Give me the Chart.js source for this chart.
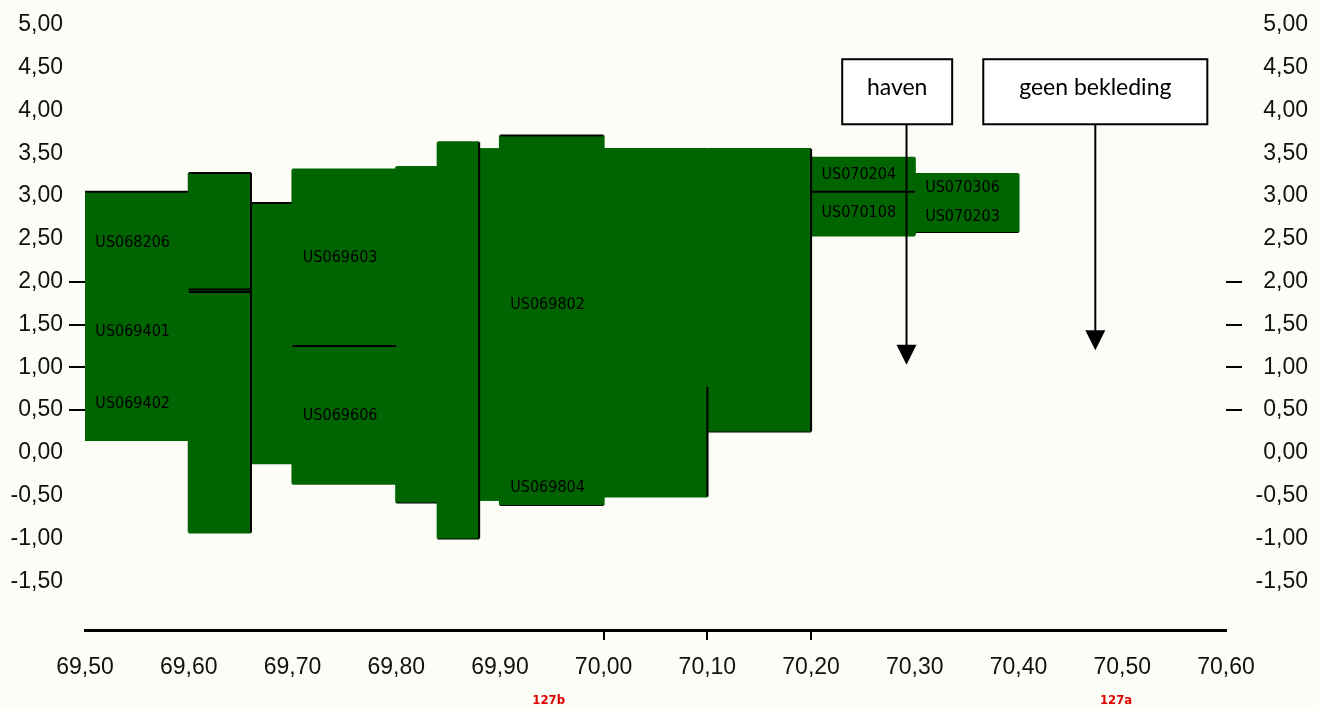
<!DOCTYPE html>
<html>
<head>
<meta charset="utf-8">
<script src="https://cdn.jsdelivr.net/npm/chart.js@4.4.0/dist/chart.umd.min.js"></script>
<style>
  html, body { margin: 0; padding: 0; background: #fdfdf7; }
</style>
</head>
<body>
<canvas id="profiel" width="1319" height="710"></canvas>
<script>
/* Blocks of the profile: chainage from / to and level bottom / top */
var blockFrom   = [69.50, 69.60, 69.66, 69.70, 69.80, 69.84, 69.88, 69.90, 70.00, 70.10, 70.20, 70.30];
var blockTo     = [69.60, 69.66, 69.70, 69.80, 69.84, 69.88, 69.90, 70.00, 70.10, 70.20, 70.30, 70.40];
var blockBottom = [0.15, -0.93, -0.12, -0.36, -0.58, -1.00, -0.55, -0.61, -0.51, 0.25, 2.54, 2.58];
var blockTop    = [3.05, 3.27, 2.92, 3.31, 3.34, 3.63, 3.55, 3.71, 3.55, 3.55, 3.45, 3.26];

/* Seams drawn inside the blocks */
var seamFromX = [69.60, 69.60, 69.70, 70.20, 70.10];
var seamToX   = [69.66, 69.66, 69.80, 70.30, 70.10];
var seamFromY = [1.91, 1.88, 1.25, 3.05, 0.77];
var seamToY   = [1.91, 1.88, 1.25, 3.05, -0.51];

/* Section codes written in the blocks */
var labelText = ['US068206', 'US069401', 'US069402', 'US069603', 'US069606', 'US069802',
                 'US069804', 'US070204', 'US070108', 'US070306', 'US070203'];
var labelX = [69.51, 69.51, 69.51, 69.71, 69.71, 69.91, 69.91, 70.21, 70.21, 70.31, 70.31];
var labelY = [2.45, 1.41, 0.57, 2.28, 0.43, 1.73, -0.41, 3.25, 2.80, 3.10, 2.76];

/* Remarks with arrows */
var noteText   = ['haven', 'geen bekleding'];
var noteLeft   = [70.230, 70.366];
var noteRight  = [70.336, 70.582];
var noteTop    = [4.60, 4.60];
var noteBottom = [3.84, 3.84];
var noteArrowX = [70.292, 70.474];
var noteArrowY = [1.03, 1.20];

/* Dike section numbers under the axis */
var sectionText = ['127b', '127a'];
var sectionX = [69.947, 70.494];

/* Tick labels */
var xTickValues = [69.5, 69.6, 69.7, 69.8, 69.9, 70.0, 70.1, 70.2, 70.3, 70.4, 70.5, 70.6];
var xMarkedTicks = [70.0, 70.1, 70.2];
var yTickValues = [-1.5, -1.0, -0.5, 0, 0.5, 1.0, 1.5, 2.0, 2.5, 3.0, 3.5, 4.0, 4.5, 5.0];
var yMarkedTicks = [0.5, 1.0, 1.5, 2.0];

/* Which edges of a block get a black line (T, R, B) */
var blackEdges = ['T', 'TR', 'T', '', 'B', 'BR', '', 'TB', '', 'BR', '', 'B'];

var GREEN = '#006400';
var TICK_FONT = { family: 'Liberation Sans, Arial, sans-serif', size: 23 };

function formatNL(v) {
  return v.toFixed(2).replace('.', ',');
}

function isMarked(list, v) {
  return list.some(function (m) { return Math.abs(m - v) < 1e-6; });
}

function lineSet(points, color, order) {
  return {
    data: points,
    showLine: true,
    fill: false,
    borderColor: color,
    borderWidth: 2,
    pointRadius: 0,
    order: order
  };
}

/* Each block is a top line filled down to its bottom line */
function buildBlockDatasets() {
  var sets = [];
  blockFrom.forEach(function (x0, i) {
    var x1 = blockTo[i], edges = blackEdges[i];
    var top = lineSet([{x: x0, y: blockTop[i]}, {x: x1, y: blockTop[i]}],
                      edges.indexOf('T') >= 0 ? '#000' : GREEN, 3);
    top.fill = '+1';
    top.backgroundColor = GREEN;
    var bottom = lineSet([{x: x0, y: blockBottom[i]}, {x: x1, y: blockBottom[i]}],
                         edges.indexOf('B') >= 0 ? '#000' : GREEN, 3);
    sets.push(top, bottom);
  });
  return sets;
}

/* Side edges: green ones close the gaps between blocks, black ones on top */
function buildEdgeDatasets() {
  var sets = [];
  blockFrom.forEach(function (x0, i) {
    var x1 = blockTo[i];
    sets.push(lineSet([{x: x0, y: blockBottom[i]}, {x: x0, y: blockTop[i]}], GREEN, 2));
    if (blackEdges[i].indexOf('R') >= 0) {
      sets.push(lineSet([{x: x1, y: blockBottom[i]}, {x: x1, y: blockTop[i]}], '#000', 1));
    } else {
      sets.push(lineSet([{x: x1, y: blockBottom[i]}, {x: x1, y: blockTop[i]}], GREEN, 2));
    }
  });
  return sets;
}

function buildSeamDatasets() {
  return seamFromX.map(function (x0, i) {
    return lineSet([{x: x0, y: seamFromY[i]}, {x: seamToX[i], y: seamToY[i]}], '#000', 0);
  });
}

/* Texts, remark boxes and arrows, placed through the scales */
var annotatePlugin = {
  id: 'annotate',
  afterDatasetsDraw: function (chart) {
    var ctx = chart.ctx, xs = chart.scales.x, ys = chart.scales.y;
    ctx.save();

    ctx.fillStyle = '#000';
    ctx.font = '16px "Liberation Sans Narrow", "DejaVu Sans Condensed", sans-serif';
    ctx.textAlign = 'left';
    ctx.textBaseline = 'middle';
    labelText.forEach(function (t, i) {
      ctx.fillText(t, xs.getPixelForValue(labelX[i]), ys.getPixelForValue(labelY[i]));
    });

    noteText.forEach(function (t, i) {
      var l = xs.getPixelForValue(noteLeft[i]), r = xs.getPixelForValue(noteRight[i]);
      var top = ys.getPixelForValue(noteTop[i]), bot = ys.getPixelForValue(noteBottom[i]);
      var ax = xs.getPixelForValue(noteArrowX[i]), ay = ys.getPixelForValue(noteArrowY[i]);
      ctx.fillStyle = '#fff';
      ctx.fillRect(l, top, r - l, bot - top);
      ctx.strokeStyle = '#000';
      ctx.lineWidth = 2;
      ctx.strokeRect(l, top, r - l, bot - top);
      ctx.fillStyle = '#000';
      ctx.font = '23px Lato, "Open Sans", sans-serif';
      ctx.textAlign = 'center';
      ctx.fillText(t, (l + r) / 2, (top + bot) / 2 - 4);
      ctx.beginPath();
      ctx.moveTo(ax, bot);
      ctx.lineTo(ax, ay - 18);
      ctx.stroke();
      ctx.beginPath();
      ctx.moveTo(ax - 10, ay - 20);
      ctx.lineTo(ax + 10, ay - 20);
      ctx.lineTo(ax, ay);
      ctx.closePath();
      ctx.fill();
    });

    ctx.fillStyle = '#e00000';
    ctx.font = 'bold 13px "Liberation Sans Narrow", "DejaVu Sans Condensed", sans-serif';
    ctx.textAlign = 'center';
    sectionText.forEach(function (t, i) {
      ctx.fillText(t, xs.getPixelForValue(sectionX[i]), xs.bottom - 9);
    });
    ctx.restore();
  }
};

function yAxis(position, width) {
  return {
    type: 'linear',
    position: position,
    min: -2.07,
    max: 5,
    afterBuildTicks: function (s) { s.ticks = yTickValues.map(function (v) { return {value: v}; }); },
    afterFit: function (s) { s.width = width; },
    border: { display: false },
    grid: {
      drawOnChartArea: false,
      tickLength: 16,
      lineWidth: 2,
      color: function (c) { return c.tick && isMarked(yMarkedTicks, c.tick.value) ? '#000' : 'rgba(0,0,0,0)'; }
    },
    ticks: {
      font: TICK_FONT,
      color: '#111',
      padding: 6,
      crossAlign: position === 'right' ? 'far' : 'near',
      callback: function (v) { return formatNL(v); }
    }
  };
}

var chart = new Chart(document.getElementById('profiel').getContext('2d'), {
  type: 'scatter',
  data: { datasets: buildBlockDatasets().concat(buildEdgeDatasets(), buildSeamDatasets()) },
  options: {
    responsive: false,
    animation: false,
    layout: { padding: { top: 25, right: 11, left: 0, bottom: 0 } },
    plugins: { legend: { display: false }, tooltip: { enabled: false } },
    scales: {
      x: {
        type: 'linear',
        min: 69.5,
        max: 70.6,
        afterBuildTicks: function (s) { s.ticks = xTickValues.map(function (v) { return {value: v}; }); },
        afterFit: function (s) { s.height = 80; },
        border: { display: true, color: '#000', width: 3 },
        grid: {
          drawOnChartArea: false,
          tickLength: 10,
          lineWidth: 2,
          color: function (c) { return c.tick && isMarked(xMarkedTicks, c.tick.value) ? '#000' : 'rgba(0,0,0,0)'; }
        },
        ticks: {
          font: TICK_FONT,
          color: '#111',
          padding: 14,
          maxRotation: 0,
          autoSkip: false,
          callback: function (v) { return formatNL(v); }
        }
      },
      y: yAxis('left', 85),
      y2: yAxis('right', 82)
    }
  },
  plugins: [annotatePlugin]
});
</script>
</body>
</html>
